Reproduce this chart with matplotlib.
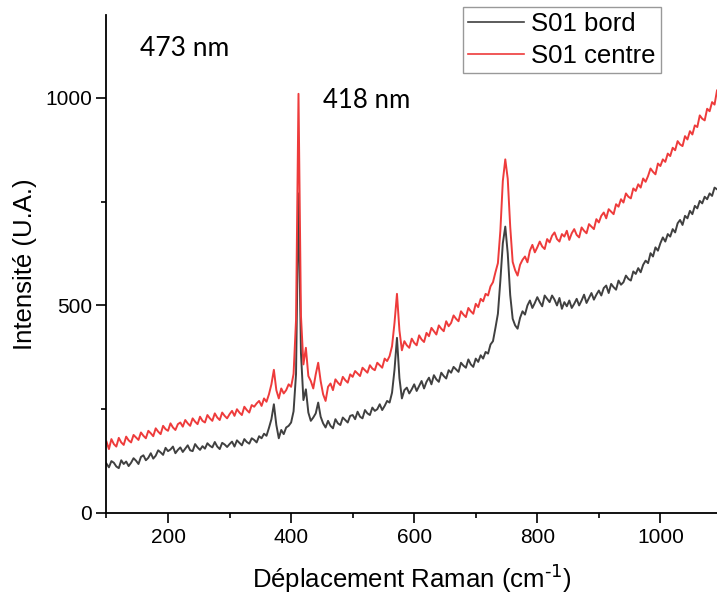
import matplotlib
matplotlib.use("Agg")
import matplotlib.pyplot as plt
from matplotlib.ticker import MultipleLocator
import numpy as np

plt.rcParams['font.family'] = ['Liberation Sans', 'DejaVu Sans']

# déplacement Raman (cm-1), pas de 4
shift = np.arange(100, 1093, 4)

# S01 bord
bord = [
    119, 110, 125, 121, 112, 108, 127, 118, 124, 113,
    121, 132, 126, 118, 135, 139, 127, 133, 144, 131,
    138, 151, 146, 140, 157, 149, 153, 160, 144, 152,
    158, 147, 155, 163, 151, 149, 166, 158, 152, 161,
    155, 168, 162, 158, 171, 160, 154, 169, 165, 159,
    166, 172, 160, 175, 169, 163, 178, 171, 167, 180,
    176, 170, 185, 180, 191, 186, 205, 226, 262, 212,
    180, 200, 190, 206, 210, 218, 245, 335, 770, 385,
    272, 298, 242, 222, 230, 240, 266, 232, 216, 206,
    222, 210, 204, 226, 216, 212, 230, 224, 218, 234,
    236, 226, 244, 232, 228, 248, 240, 236, 254, 246,
    250, 262, 248, 258, 270, 266, 290, 345, 422, 325,
    276, 296, 302, 288, 298, 310, 294, 306, 318, 300,
    316, 326, 310, 332, 322, 316, 338, 330, 324, 344,
    338, 352, 346, 340, 362, 355, 350, 370, 358, 352,
    372, 364, 380, 372, 388, 384, 406, 414, 446, 480,
    560, 650, 690, 625, 525, 468, 452, 444, 470, 486,
    478, 500, 512, 494, 506, 520, 508, 498, 524, 516,
    508, 524, 514, 500, 518, 492, 508, 498, 512, 494,
    504, 516, 500, 512, 526, 506, 518, 530, 514, 526,
    536, 524, 542, 548, 530, 552, 544, 538, 560, 550,
    556, 572, 564, 560, 582, 576, 590, 580, 598, 608,
    602, 626, 618, 640, 632, 650, 664, 654, 672, 666,
    684, 676, 698, 706, 694, 716, 710, 728, 720, 740,
    734, 752, 746, 762, 756, 770, 764, 784, 780,
]

# S01 centre
centre = [
    172, 154, 178, 166, 160, 181, 170, 164, 184, 175,
    170, 188, 182, 176, 194, 186, 180, 198, 192, 185,
    204, 196, 190, 210, 202, 198, 216, 206, 200, 214,
    218, 208, 224, 216, 210, 228, 220, 214, 232, 222,
    218, 236, 228, 222, 240, 230, 224, 242, 234, 228,
    238, 246, 234, 250, 242, 236, 256, 248, 242, 260,
    256, 264, 270, 258, 276, 268, 286, 310, 345, 296,
    276, 300, 288, 296, 310, 304, 335, 465, 1010, 475,
    358, 398, 330, 318, 300, 334, 362, 318, 286, 270,
    304, 312, 296, 322, 314, 308, 328, 320, 314, 334,
    328, 342, 336, 330, 350, 344, 338, 356, 348, 344,
    362, 356, 350, 372, 366, 378, 402, 458, 528, 440,
    392, 414, 404, 398, 420, 410, 404, 428, 418, 412,
    434, 426, 446, 438, 430, 452, 444, 438, 462, 450,
    458, 476, 468, 462, 486, 478, 472, 494, 486, 480,
    504, 496, 516, 510, 528, 524, 546, 556, 580, 602,
    680, 800, 852, 805, 690, 605, 585, 572, 598, 610,
    618, 604, 632, 646, 628, 640, 654, 642, 636, 660,
    652, 668, 676, 660, 654, 672, 666, 680, 658, 674,
    684, 670, 664, 688, 680, 674, 696, 690, 684, 708,
    700, 716, 724, 710, 732, 726, 720, 744, 738, 756,
    748, 770, 762, 758, 782, 776, 792, 784, 806, 798,
    812, 830, 822, 816, 842, 836, 852, 846, 866, 860,
    880, 874, 896, 888, 884, 908, 900, 920, 912, 934,
    930, 958, 950, 946, 974, 968, 990, 984, 1018,
]

fig = plt.figure(figsize=(7.17, 5.96), dpi=100)
ax = fig.add_axes([0.1485, 0.1393, 0.8515, 0.8356])

ax.plot(shift, bord, color='#404040', lw=1.4, label='S01 bord')
ax.plot(shift, centre, color='#ee3b3b', lw=1.4, label='S01 centre')

ax.set_xlim(100, 1092)
ax.set_ylim(0, 1200)

ax.xaxis.set_major_locator(MultipleLocator(200))
ax.xaxis.set_minor_locator(MultipleLocator(100))
ax.yaxis.set_major_locator(MultipleLocator(500))
ax.yaxis.set_minor_locator(MultipleLocator(250))
ax.tick_params(which='major', direction='out', length=7, width=1.2, labelsize=15)
ax.tick_params(which='minor', direction='out', length=3.5, width=1.2)

for s in ['top', 'right']:
    ax.spines[s].set_visible(False)
for s in ['left', 'bottom']:
    ax.spines[s].set_linewidth(1.3)

ax.set_xlabel(r'Déplacement Raman (cm$^{\text{-1}}$)', fontsize=18.5, labelpad=11)
ax.set_ylabel('Intensité (U.A.)', fontsize=18.5, labelpad=6)

ax.text(154, 1118, '473 nm', fontsize=19, family='Lato', va='center')
ax.text(452, 995, '418 nm', fontsize=18.5, family='Lato', va='center')

leg = ax.legend(loc='upper right', bbox_to_anchor=(0.922, 0.988),
                bbox_transform=fig.transFigure, fontsize=18.5, frameon=True,
                fancybox=False, edgecolor='#808080', handlelength=2.15,
                handletextpad=0.3, borderpad=0.2, labelspacing=0.3,
                borderaxespad=0)
leg.get_frame().set_linewidth(1.0)
for line in leg.get_lines():
    line.set_linewidth(1.2)

fig.savefig('out.png', dpi=100)
